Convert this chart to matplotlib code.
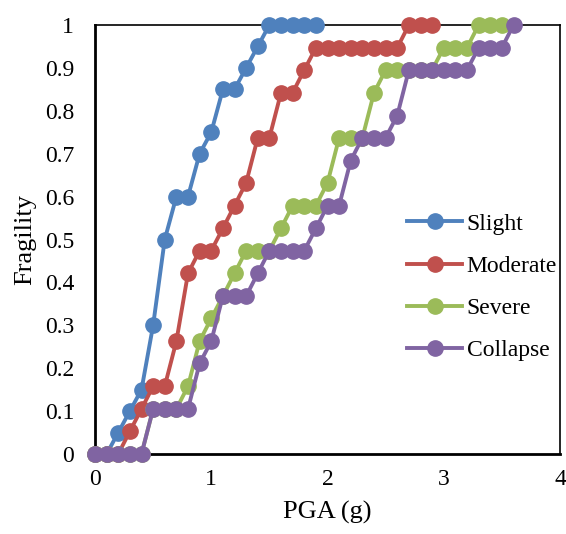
import matplotlib
matplotlib.use("Agg")
import matplotlib.pyplot as plt

pga = [round(0.1 * i, 1) for i in range(37)]

slight_x = pga[:20]
slight = [0, 0, 0.05, 0.10, 0.15, 0.30, 0.50, 0.60, 0.60, 0.70, 0.75, 0.85, 0.85, 0.90, 0.95,
          1, 1, 1, 1, 1]

moderate_x = pga[:30]
moderate = [0, 0, 0, 0.053, 0.105, 0.158, 0.158, 0.263, 0.421, 0.474, 0.474, 0.526, 0.579, 0.632,
            0.737, 0.737, 0.842, 0.842, 0.895, 0.947, 0.947, 0.947, 0.947, 0.947, 0.947, 0.947,
            0.947, 1, 1, 1]

severe_x = pga[:36]
severe = [0, 0, 0, 0, 0, 0.105, 0.105, 0.105, 0.158, 0.263, 0.316, 0.368, 0.421, 0.474, 0.474,
          0.474, 0.526, 0.579, 0.579, 0.579, 0.632, 0.737, 0.737, 0.737, 0.842, 0.895, 0.895,
          0.895, 0.895, 0.895, 0.947, 0.947, 0.947, 1, 1, 1]

collapse_x = pga[:37]
collapse = [0, 0, 0, 0, 0, 0.105, 0.105, 0.105, 0.105, 0.211, 0.263, 0.368, 0.368, 0.368, 0.421,
            0.474, 0.474, 0.474, 0.474, 0.526, 0.579, 0.579, 0.684, 0.737, 0.737, 0.737, 0.789,
            0.895, 0.895, 0.895, 0.895, 0.895, 0.895, 0.947, 0.947, 0.947, 1]

names = ["Slight", "Moderate", "Severe", "Collapse"]
colors = ["#4F81BD", "#C0504D", "#9BBB59", "#8064A2"]

xticks = [0, 1, 2, 3, 4]
yticks = [0, 0.1, 0.2, 0.3, 0.4, 0.5, 0.6, 0.7, 0.8, 0.9, 1]
ytick_labels = ["0", "0.1", "0.2", "0.3", "0.4", "0.5", "0.6", "0.7", "0.8", "0.9", "1"]

plt.rcParams['font.family'] = ['Liberation Serif', 'DejaVu Serif']

fig = plt.figure(figsize=(5.66, 5.34), dpi=100)
ax = fig.add_axes([95 / 566, 80 / 534, 465 / 566, 429 / 534])

series = [(slight_x, slight), (moderate_x, moderate), (severe_x, severe), (collapse_x, collapse)]
for (xs, ys), name, c in zip(series, names, colors):
    ax.plot(xs, ys, color=c, lw=2.8, marker='o', ms=11, mec=c, mfc=c, label=name,
            clip_on=False, zorder=3)

ax.set_xlim(0, 4)
ax.set_ylim(0, 1)
ax.set_xticks(xticks)
ax.set_xticklabels([str(t) for t in xticks])
ax.set_yticks(yticks)
ax.set_yticklabels(ytick_labels)
ax.tick_params(length=0, labelsize=17)
ax.tick_params(axis='x', pad=11)
ax.tick_params(axis='y', pad=15)
for s in ax.spines.values():
    s.set_linewidth(1.2)
    s.set_color('black')
ax.spines['bottom'].set_linewidth(2.0)
ax.spines['left'].set_linewidth(2.0)

ax.set_xlabel("PGA (g)", fontsize=19, labelpad=8)
ax.set_ylabel("Fragility", fontsize=19, labelpad=6)

ax.legend(loc='upper left', bbox_to_anchor=(407 / 566, (534 - 213) / 534),
          bbox_transform=fig.transFigure, frameon=False, fontsize=17,
          handlelength=2.33, handletextpad=0.2, labelspacing=0.88, borderpad=0,
          borderaxespad=0)

fig.savefig("out.png", dpi=100)
